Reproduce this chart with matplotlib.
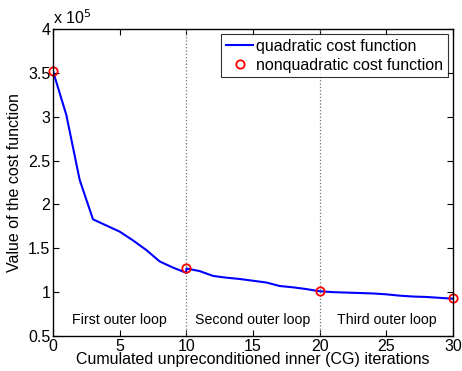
import matplotlib
matplotlib.use("Agg")
import matplotlib.pyplot as plt
import numpy as np

plt.rcParams['font.family'] = ['Liberation Sans', 'DejaVu Sans']

# quadratic cost function (x10^5)
quad_x = [0, 1, 2, 3, 4, 5, 6, 7, 8, 9, 10,
          10, 11, 12, 13, 14, 15, 16, 17, 18, 19, 20,
          20, 21, 22, 23, 24, 25, 26, 27, 28, 29, 30]
quad_y = [3.52, 3.02, 2.28, 1.83, 1.76, 1.69, 1.59, 1.48, 1.35, 1.28, 1.22,
          1.27, 1.24, 1.185, 1.165, 1.15, 1.13, 1.11, 1.07, 1.055, 1.035, 1.01,
          1.01, 1.0, 0.995, 0.99, 0.985, 0.975, 0.96, 0.95, 0.945, 0.935, 0.925]
# nonquadratic cost function (x10^5)
nonq_x = [0, 10, 20, 30]
nonq_y = [3.52, 1.27, 1.01, 0.93]

loop_labels = ["First outer loop", "Second outer loop", "Third outer loop"]
loop_x = [5, 15, 25]
sep_x = [10, 20]

fig = plt.figure(figsize=(4.62, 3.71), dpi=100)
ax = fig.add_axes([53/462, 1-336/371, 400/462, 307/371])

for s in sep_x:
    ax.axvline(s, color='0.45', linestyle=':', linewidth=0.9)

ax.plot(quad_x, quad_y, color='blue', linewidth=1.5, label='quadratic cost function')
ax.plot(nonq_x, nonq_y, linestyle='none', marker='o', markersize=6,
        markerfacecolor='none', markeredgecolor='red', markeredgewidth=1.3,
        label='nonquadratic cost function', clip_on=False)

for lx, lt in zip(loop_x, loop_labels):
    ax.text(lx, 0.68, lt, ha='center', va='center', fontsize=10.2)

ax.set_xlim(0, 30)
ax.set_ylim(0.5, 4)
ax.set_xticks([0, 5, 10, 15, 20, 25, 30])
ax.set_yticks([0.5, 1, 1.5, 2, 2.5, 3, 3.5, 4])
ax.set_yticklabels(['0.5', '1', '1.5', '2', '2.5', '3', '3.5', '4'])
ax.tick_params(direction='in', top=True, right=True, labelsize=11.5, length=4, width=0.8, pad=2)
for sp in ax.spines.values():
    sp.set_linewidth(1.0)

ax.set_xlabel('Cumulated unpreconditioned inner (CG) iterations', fontsize=11.5, labelpad=-1)
ax.set_ylabel('Value of the cost function', fontsize=11.5, labelpad=4)
ax.text(0.0, 1.005, r'x 10$^5$', transform=ax.transAxes, ha='left', va='bottom', fontsize=11.5)

leg = ax.legend(loc='upper right', fontsize=11.5, frameon=True, fancybox=False,
                borderpad=0.3, handlelength=1.7, handletextpad=0.2, labelspacing=0.25,
                borderaxespad=0.3)
leg.get_frame().set_edgecolor('black')
leg.get_frame().set_linewidth(0.8)

fig.savefig('out.png', dpi=100)
